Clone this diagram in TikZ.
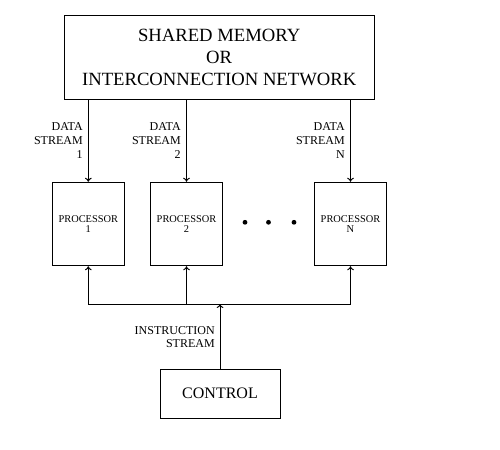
\documentclass[tikz,border=0pt]{standalone}
\usepackage{fontspec}
\setmainfont{Liberation Serif}
\usetikzlibrary{arrows.meta}
\begin{document}
\begin{tikzpicture}[x=0.75pt,y=-0.75pt,
  box/.style={draw,line width=0.75pt,inner sep=0pt,align=center},
  memfont/.style={font=\fontsize{14}{16.5}\selectfont},
  procbox/.style={box,minimum width=53.6pt,minimum height=62.6pt,font=\fontsize{7.8}{8}\selectfont},
  lbl/.style={inner sep=0pt,align=right,font=\fontsize{9}{10.3}\selectfont},
  conn/.style={line width=0.75pt,-{To[length=3pt,width=5pt]}},
  wire/.style={line width=0.75pt},
  dotc/.style={circle,fill,inner sep=0pt,minimum size=3.6pt}]
\useasboundingbox (0,0) rectangle (500,450);
\node[box,memfont,minimum width=232.3pt,minimum height=62.7pt] (mem) at (219.2,57.5)
  {SHARED MEMORY\\OR\\INTERCONNECTION NETWORK};
\node[procbox] (p1) at (88.3,224) {PROCESSOR\\1};
\node[procbox] (p2) at (186.5,224) {PROCESSOR\\2};
\node[procbox] (pn) at (350.5,224) {PROCESSOR\\N};
\node[dotc] (d1) at (245,222.3) {};
\node[dotc] (d2) at (268.5,222.3) {};
\node[dotc] (d3) at (294,222.3) {};
\node[box,font=\fontsize{12}{14}\selectfont,minimum width=90pt,minimum height=36.75pt] (ctrl) at (220,393.5) {CONTROL};
% data streams
\draw[conn] (p1.north |- mem.south) -- (p1.north);
\draw[conn] (p2.north |- mem.south) -- (p2.north);
\draw[conn] (pn.north |- mem.south) -- (pn.north);
\node[lbl,anchor=north east] (l1) at (83,122.7) {DATA\\STREAM\\1};
\node[lbl,anchor=north east] (l2) at (181,122.7) {DATA\\STREAM\\2};
\node[lbl,anchor=north east] (ln) at (345,122.7) {DATA\\STREAM\\N};
% instruction bus
\coordinate (bus) at (0,304);
\draw[wire] (p1.south |- bus) -- (pn.south |- bus);
\draw[conn] (p1.south |- bus) -- (p1.south);
\draw[conn] (p2.south |- bus) -- (p2.south);
\draw[conn] (pn.south |- bus) -- (pn.south);
\draw[conn] (ctrl.north) -- (ctrl.north |- bus);
\node[lbl,anchor=north east] (li) at (215,326) {INSTRUCTION\\STREAM};
\end{tikzpicture}
\end{document}
